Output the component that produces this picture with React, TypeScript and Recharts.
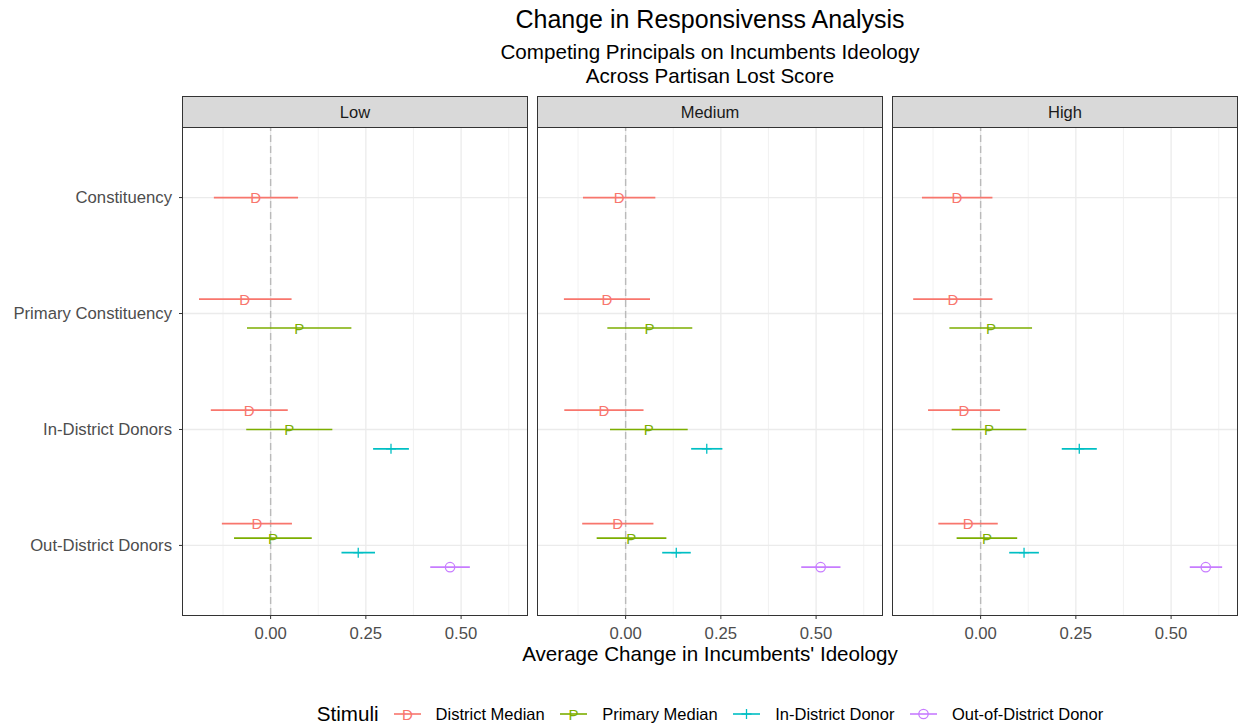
import { ScatterChart, Scatter, XAxis, YAxis, CartesianGrid, ReferenceLine, ErrorBar } from 'recharts';

const categories = ['Constituency', 'Primary Constituency', 'In-District Donors', 'Out-District Donors'];
const stimuli = ['District Median', 'Primary Median', 'In-District Donor', 'Out-of-District Donor'];
const stimulusColors = ['#F8766D', '#7CAE00', '#00BFC4', '#C77CFF'];
const stimulusMarks = ['D', 'P', '+', 'O'];
const panels = ['Low', 'Medium', 'High'];
const xTicks = [0, 0.25, 0.5];
const xMinorGrid = [-0.125, 0.125, 0.375, 0.625];

// [lower, estimate, upper] per category; null where the stimulus was not used
const lowDistrictMedian = [[-0.149, -0.039, 0.072], [-0.188, -0.068, 0.055], [-0.157, -0.056, 0.045], [-0.128, -0.036, 0.056]];
const lowPrimaryMedian = [null, [-0.062, 0.075, 0.212], [-0.064, 0.049, 0.162], [-0.096, 0.006, 0.108]];
const lowInDistrict = [null, null, [0.269, 0.316, 0.363], [0.186, 0.23, 0.274]];
const lowOutDistrict = [null, null, null, [0.419, 0.471, 0.523]];

const mediumDistrictMedian = [[-0.112, -0.017, 0.078], [-0.162, -0.049, 0.064], [-0.161, -0.057, 0.047], [-0.114, -0.021, 0.073]];
const mediumPrimaryMedian = [null, [-0.048, 0.063, 0.175], [-0.041, 0.061, 0.163], [-0.076, 0.015, 0.107]];
const mediumInDistrict = [null, null, [0.172, 0.213, 0.254], [0.096, 0.133, 0.171]];
const mediumOutDistrict = [null, null, null, [0.461, 0.512, 0.564]];

const highDistrictMedian = [[-0.154, -0.062, 0.031], [-0.177, -0.073, 0.031], [-0.138, -0.044, 0.051], [-0.111, -0.033, 0.045]];
const highPrimaryMedian = [null, [-0.082, 0.027, 0.135], [-0.076, 0.022, 0.12], [-0.063, 0.017, 0.096]];
const highInDistrict = [null, null, [0.213, 0.259, 0.305], [0.075, 0.114, 0.153]];
const highOutDistrict = [null, null, null, [0.549, 0.591, 0.634]];

const panelData = [
  [lowDistrictMedian, lowPrimaryMedian, lowInDistrict, lowOutDistrict],
  [mediumDistrictMedian, mediumPrimaryMedian, mediumInDistrict, mediumOutDistrict],
  [highDistrictMedian, highPrimaryMedian, highInDistrict, highOutDistrict],
];

const FONT = '"Liberation Sans", Arial, sans-serif';
const PANEL_LEFT = [183, 538, 893];
const PANEL_W = 344;
const PANEL_TOP = 128;
const PANEL_H = 487;
const X_DOMAIN = [-0.23, 0.673];
const DODGE = 0.5;
const AXIS_FONT = 16.7;

// dodge points within a category, like position_dodge(width = 0.5)
function buildPoints(series) {
  return series.map((rows, s) =>
    rows
      .map((row, c) => {
        if (!row) return null;
        const present = series.map((r, k) => (r[c] ? k : -1)).filter((k) => k >= 0);
        const n = present.length;
        const j = present.indexOf(s);
        const [lo, est, hi] = row;
        return { x: est, y: c + (j - (n - 1) / 2) * (DODGE / n), err: [est - lo, hi - est] };
      })
      .filter(Boolean)
  );
}

function Mark({ cx, cy, kind, color }) {
  if (cx == null || cy == null) return null;
  if (kind === '+') {
    return (
      <g stroke={color} strokeWidth={1.3}>
        <line x1={cx - 5} x2={cx + 5} y1={cy} y2={cy} />
        <line x1={cx} x2={cx} y1={cy - 5} y2={cy + 5} />
      </g>
    );
  }
  if (kind === 'O') {
    return <circle cx={cx} cy={cy} r={4.7} fill="none" stroke={color} strokeWidth={1.3} />;
  }
  return (
    <text x={cx} y={cy} textAnchor="middle" dominantBaseline="central" fill={color} fontSize={15} fontFamily={FONT}>
      {kind}
    </text>
  );
}

function Panel({ index }) {
  const first = index === 0;
  const points = buildPoints(panelData[index]);
  const yAxisW = first ? PANEL_LEFT[0] : 0;
  return (
    <div style={{ position: 'absolute', left: first ? 0 : PANEL_LEFT[index], top: PANEL_TOP }}>
      <ScatterChart width={PANEL_W + yAxisW} height={PANEL_H + 45} margin={{ top: 0, right: 0, bottom: 0, left: 0 }}>
        <CartesianGrid verticalValues={xMinorGrid} horizontal={false} stroke="#efefef" strokeWidth={0.8} />
        <CartesianGrid verticalValues={xTicks} horizontalValues={[0, 1, 2, 3]} stroke="#ebebeb" strokeWidth={1.3} />
        <XAxis
          type="number"
          dataKey="x"
          domain={X_DOMAIN}
          allowDataOverflow
          ticks={xTicks}
          tickFormatter={(v) => v.toFixed(2)}
          axisLine={false}
          tickSize={4}
          tickMargin={8}
          tickLine={{ stroke: '#333333' }}
          tick={{ fill: '#4d4d4d', fontSize: AXIS_FONT, fontFamily: FONT }}
          height={45}
        />
        <YAxis
          type="number"
          dataKey="y"
          domain={[-0.6, 3.6]}
          reversed
          ticks={[0, 1, 2, 3]}
          tickFormatter={(v) => categories[v]}
          hide={!first}
          width={yAxisW}
          axisLine={false}
          tickSize={4}
          tickMargin={7}
          tickLine={{ stroke: '#333333' }}
          tick={{ fill: '#4d4d4d', fontSize: AXIS_FONT, fontFamily: FONT }}
        />
        <ReferenceLine x={0} stroke="#bababa" strokeWidth={1.4} strokeDasharray="7 4" />
        {stimuli.map((name, s) => (
          <Scatter
            key={name}
            name={name}
            data={points[s]}
            isAnimationActive={false}
            shape={(p) => <Mark cx={p.cx} cy={p.cy} kind={stimulusMarks[s]} color={stimulusColors[s]} />}
          >
            <ErrorBar dataKey="err" direction="x" width={0} stroke={stimulusColors[s]} strokeWidth={1.7} isAnimationActive={false} />
          </Scatter>
        ))}
      </ScatterChart>
    </div>
  );
}

function LegendKey({ s }) {
  return (
    <svg width={27} height={16} style={{ display: 'block' }}>
      <line x1={0} x2={27} y1={8} y2={8} stroke={stimulusColors[s]} strokeWidth={1.6} />
      <Mark cx={13.5} cy={8} kind={stimulusMarks[s]} color={stimulusColors[s]} />
    </svg>
  );
}

export default function App() {
  const center = { position: 'absolute', left: 182, width: 1056, textAlign: 'center', lineHeight: 1 } as const;
  return (
    <div style={{ position: 'absolute', left: 0, top: 0, width: 1238, height: 723, background: '#fff', fontFamily: FONT, color: '#000' }}>
      <div style={{ ...center, top: 7, fontSize: 25 }}>Change in Responsivenss Analysis</div>
      <div style={{ ...center, top: 41.5, fontSize: 20.6 }}>Competing Principals on Incumbents Ideology</div>
      <div style={{ ...center, top: 65.5, fontSize: 20.6 }}>Across Partisan Lost Score</div>

      {panels.map((p, i) => (
        <Panel key={p} index={i} />
      ))}

      {panels.map((p, i) => (
        <div key={'strip' + p}>
          <div
            style={{
              position: 'absolute', left: PANEL_LEFT[i] - 1, top: 96, width: PANEL_W + 2, height: 32,
              boxSizing: 'border-box', background: '#d9d9d9', border: '1px solid #333333',
              display: 'flex', alignItems: 'center', justifyContent: 'center', fontSize: 16.5, color: '#1a1a1a',
            }}
          >
            {p}
          </div>
          <div
            style={{
              position: 'absolute', left: PANEL_LEFT[i] - 1, top: 127, width: PANEL_W + 2, height: 489,
              boxSizing: 'border-box', border: '1px solid #333333', pointerEvents: 'none',
            }}
          />
        </div>
      ))}

      <div style={{ ...center, top: 644, fontSize: 20.6 }}>Average Change in Incumbents' Ideology</div>

      <div style={{ position: 'absolute', left: 182, width: 1056, top: 702, height: 24, display: 'flex', justifyContent: 'center', alignItems: 'center' }}>
        <span style={{ fontSize: 20.6, marginRight: 15, lineHeight: 1 }}>Stimuli</span>
        {stimuli.map((name, s) => (
          <div key={name} style={{ display: 'flex', alignItems: 'center', marginRight: s < stimuli.length - 1 ? 15.5 : 0 }}>
            <LegendKey s={s} />
            <span style={{ fontSize: 16.5, marginLeft: 15, lineHeight: 1 }}>{name}</span>
          </div>
        ))}
      </div>
    </div>
  );
}
